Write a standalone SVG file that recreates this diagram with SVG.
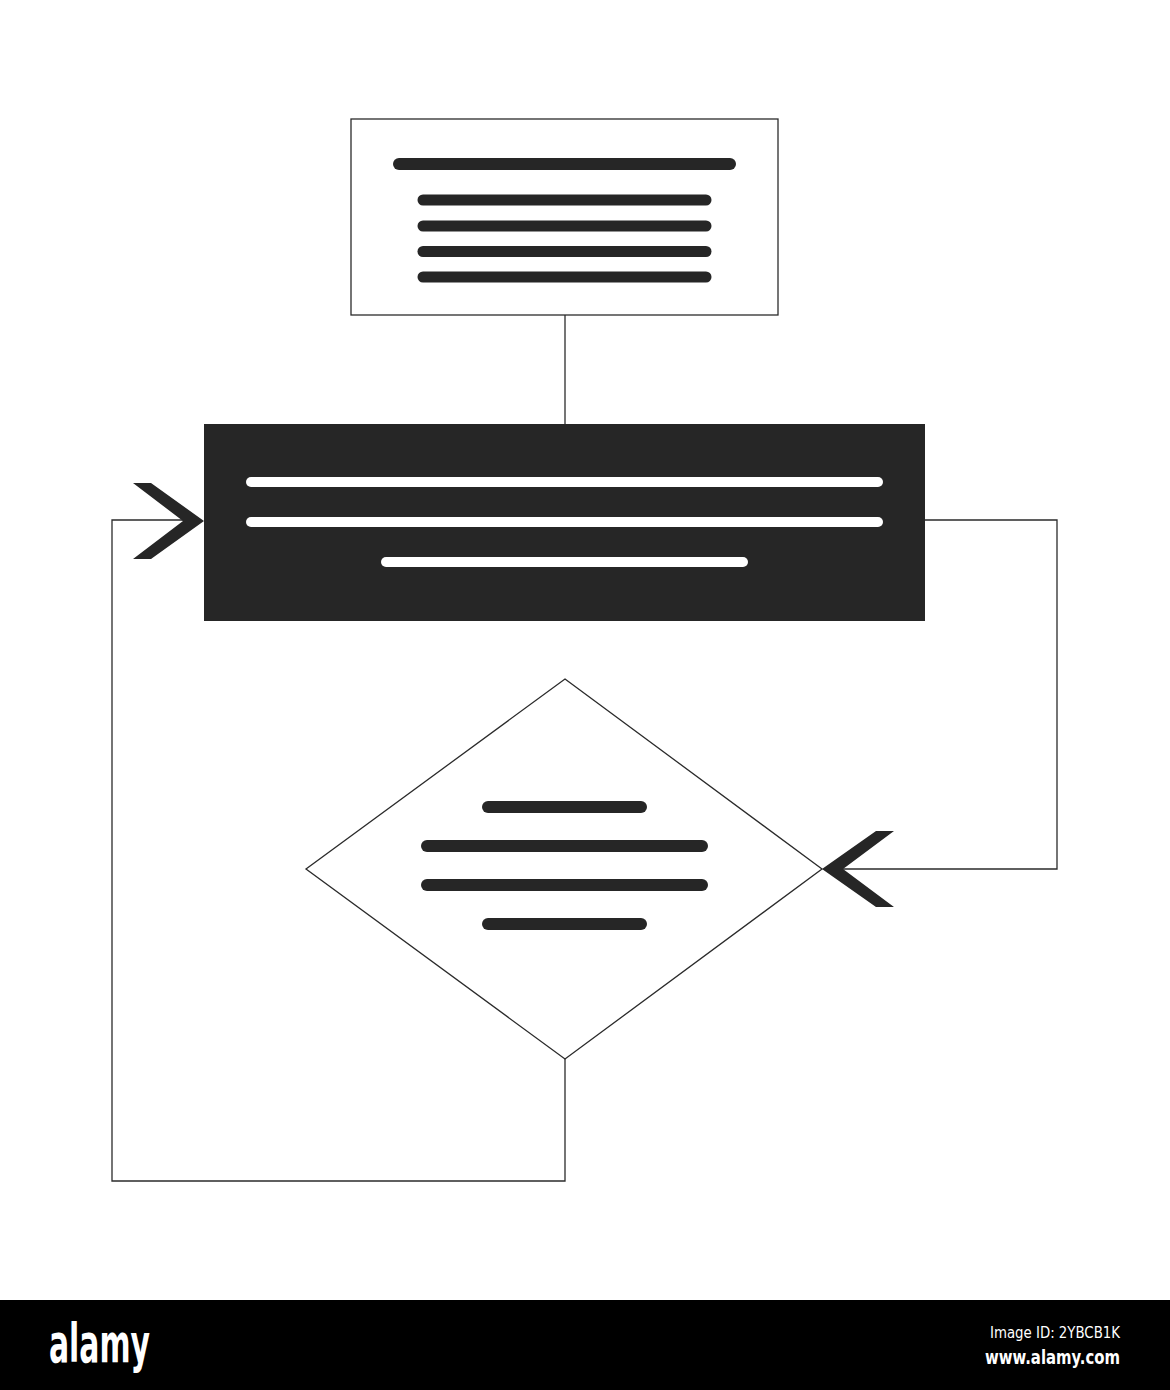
<svg xmlns="http://www.w3.org/2000/svg" width="1170" height="1390" viewBox="0 0 1170 1390">
<style>
.conn{fill:none;stroke:#2b2b2b;stroke-width:1.3}
.box{fill:#fff;stroke:#2b2b2b;stroke-width:1.3}
.dl{stroke:#262626;stroke-linecap:round;fill:none}
.wl{stroke:#fff;stroke-linecap:round;fill:none;stroke-width:10}
.arrow{fill:#262626}
.brand{fill:#fff;font-family:"DejaVu Sans Condensed","DejaVu Sans","Liberation Sans",sans-serif}
</style>
<rect width="1170" height="1390" fill="#fff"/>
<g id="connectors">
  <line class="conn" x1="565" y1="315" x2="565" y2="424"/>
  <polyline class="conn" points="925,520 1057,520 1057,869 843,869"/>
  <polyline class="conn" points="565,1059 565,1181 112,1181 112,520 183,520"/>
  <polygon class="arrow" points="822,869 876,831 894,831 843,869 894,907 876,907"/>
  <polygon class="arrow" points="204,521 151,483 133,483 183,521 133,559 151,559"/>
</g>
<g id="node-top">
  <rect class="box" x="351" y="119" width="427" height="196"/>
  <line class="dl" x1="399" y1="164" x2="730" y2="164" stroke-width="12"/>
  <line class="dl" x1="423" y1="200" x2="706" y2="200" stroke-width="11"/>
  <line class="dl" x1="423" y1="226" x2="706" y2="226" stroke-width="11"/>
  <line class="dl" x1="423" y1="251.5" x2="706" y2="251.5" stroke-width="11"/>
  <line class="dl" x1="423" y1="277" x2="706" y2="277" stroke-width="11"/>
</g>
<g id="node-process">
  <rect x="204" y="424" width="721" height="197" fill="#262626"/>
  <line class="wl" x1="251" y1="482" x2="878" y2="482"/>
  <line class="wl" x1="251" y1="522" x2="878" y2="522"/>
  <line class="wl" x1="386" y1="562" x2="743" y2="562"/>
</g>
<g id="node-decision">
  <polygon class="box" points="565,679 822,869 565,1059 306,869"/>
  <line class="dl" x1="488" y1="807" x2="641" y2="807" stroke-width="12"/>
  <line class="dl" x1="427" y1="846" x2="702" y2="846" stroke-width="12"/>
  <line class="dl" x1="427" y1="885" x2="702" y2="885" stroke-width="12"/>
  <line class="dl" x1="488" y1="924" x2="641" y2="924" stroke-width="12"/>
</g>
<g id="banner">
  <rect x="0" y="1300" width="1170" height="90" fill="#000"/>
  <text class="brand" x="49" y="1362" font-size="54" font-weight="bold" textLength="101" lengthAdjust="spacingAndGlyphs">alamy</text>
  <text class="brand" x="1120" y="1338" font-size="16" text-anchor="end" textLength="130" lengthAdjust="spacingAndGlyphs">Image ID: 2YBCB1K</text>
  <text class="brand" x="1120" y="1364" font-size="19" font-weight="bold" text-anchor="end" textLength="135" lengthAdjust="spacingAndGlyphs">www.alamy.com</text>
</g>
</svg>
